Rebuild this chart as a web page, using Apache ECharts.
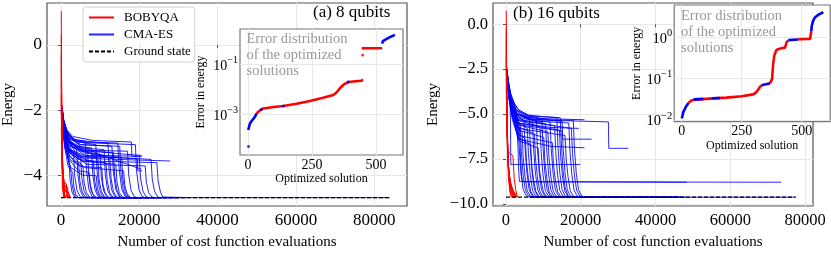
<!DOCTYPE html>
<html><head><meta charset="utf-8">
<script src="https://cdn.jsdelivr.net/npm/echarts@6/dist/echarts.min.js"></script>
<style>html,body{margin:0;padding:0;background:#fff}#c{width:831px;height:255px}</style>
</head><body><div id="c"></div>
<script>
// ---------------- DATA ----------------
const xTicksA = [0, 20000, 40000, 60000, 80000];
const yTicksA = [-4, -2, 0];
const xTicksB = [0, 20000, 40000, 60000, 80000];
const yTicksB = [-10, -7.5, -5, -2.5, 0];
const insetXTicks = [0, 250, 500];
const insetYTicksA = [0.001, 0.1];
const insetYTicksB = [0.01, 0.1, 1];

const groundA = [[0, -4.67], [83900, -4.67]];
const groundB = [[0, -9.63], [77500, -9.63]];

const cmaesA = [
 [[250,-1.90],[700,-2.35],[1600,-2.70],[3500,-2.90],[9000,-2.98],[14500,-3.00],[14900,-3.85],[15500,-4.40],[16300,-4.62],[17200,-4.67],[22000,-4.67]],
 [[300,-2.00],[900,-2.50],[2200,-2.85],[5000,-3.05],[13000,-3.10],[13400,-3.90],[14000,-4.42],[14800,-4.63],[15600,-4.67],[20000,-4.67]],
 [[300,-2.20],[800,-2.80],[1500,-3.30],[2000,-3.50],[2300,-4.10],[2800,-4.50],[3500,-4.65],[4300,-4.67],[15000,-4.67]],
 [[350,-2.30],[900,-2.90],[1800,-3.50],[2500,-3.80],[2800,-4.25],[3300,-4.55],[4000,-4.67],[12000,-4.67]],
 [[250,-2.10],[800,-2.60],[1800,-3.05],[3200,-3.30],[3500,-4.00],[4100,-4.45],[4900,-4.64],[5800,-4.67],[18000,-4.67]],
 [[280,-1.95],[700,-2.40],[1600,-2.85],[2800,-3.10],[4000,-3.20],[4300,-3.95],[4900,-4.45],[5700,-4.64],[6500,-4.67],[14000,-4.67]],
 [[320,-2.40],[900,-2.95],[2000,-3.35],[3500,-3.55],[4500,-3.60],[4800,-4.15],[5400,-4.50],[6200,-4.65],[7000,-4.67],[16000,-4.67]],
 [[260,-2.00],[800,-2.50],[2000,-2.95],[3800,-3.30],[5000,-3.40],[5300,-4.05],[5900,-4.48],[6700,-4.64],[7500,-4.67],[25000,-4.67]],
 [[300,-2.25],[900,-2.85],[2200,-3.40],[4200,-3.65],[5600,-3.70],[5900,-4.20],[6500,-4.52],[7300,-4.65],[8100,-4.67],[13000,-4.67]],
 [[250,-1.90],[650,-2.30],[1500,-2.65],[3000,-2.88],[6200,-2.95],[6500,-3.80],[7100,-4.40],[7900,-4.63],[8800,-4.67],[20000,-4.67]],
 [[270,-2.15],[800,-2.65],[2000,-3.00],[4000,-3.20],[6800,-3.25],[7100,-4.00],[7700,-4.46],[8500,-4.64],[9300,-4.67],[30000,-4.67]],
 [[330,-2.35],[900,-2.95],[2000,-3.50],[4500,-3.85],[7200,-3.90],[7500,-4.30],[8100,-4.55],[8900,-4.66],[9600,-4.67],[15000,-4.67]],
 [[260,-2.05],[750,-2.55],[1800,-2.90],[4000,-3.10],[7800,-3.15],[8100,-3.95],[8700,-4.44],[9500,-4.64],[10300,-4.67],[24000,-4.67]],
 [[310,-2.30],[900,-2.85],[2100,-3.25],[4500,-3.50],[8300,-3.55],[8600,-4.15],[9200,-4.50],[10000,-4.65],[10800,-4.67],[18000,-4.67]],
 [[250,-1.85],[600,-2.25],[1400,-2.60],[3200,-2.90],[6000,-3.00],[8900,-3.05],[9200,-3.85],[9800,-4.42],[10600,-4.63],[11500,-4.67],[28000,-4.67]],
 [[290,-2.20],[850,-2.75],[2000,-3.15],[4500,-3.40],[9400,-3.45],[9700,-4.10],[10300,-4.48],[11100,-4.65],[11900,-4.67],[16000,-4.67]],
 [[260,-2.00],[800,-2.50],[2000,-2.95],[5000,-3.25],[10000,-3.35],[10300,-4.05],[10900,-4.47],[11700,-4.64],[12500,-4.67],[83900,-4.67]],
 [[340,-2.40],[950,-3.00],[2300,-3.50],[5000,-3.72],[10400,-3.75],[10700,-4.25],[11300,-4.54],[12100,-4.66],[12800,-4.67],[19000,-4.67]],
 [[270,-2.10],[800,-2.60],[2000,-2.95],[5000,-3.15],[11000,-3.20],[11300,-3.95],[11900,-4.44],[12700,-4.64],[13500,-4.67],[22000,-4.67]],
 [[300,-2.25],[900,-2.80],[2200,-3.30],[5500,-3.55],[11500,-3.60],[11800,-4.15],[12400,-4.50],[13200,-4.65],[14000,-4.67],[17000,-4.67]],
 [[250,-1.95],[700,-2.40],[1700,-2.75],[4000,-2.95],[12000,-3.00],[12300,-3.85],[12900,-4.42],[13700,-4.63],[14500,-4.67],[26000,-4.67]],
 [[310,-2.30],[900,-2.85],[2200,-3.25],[5000,-3.45],[12500,-3.50],[12800,-4.10],[13400,-4.48],[14200,-4.65],[15000,-4.67],[21000,-4.67]],
 [[270,-2.05],[800,-2.55],[2000,-2.95],[5500,-3.25],[13400,-3.30],[13700,-4.00],[14300,-4.45],[15100,-4.64],[15900,-4.67],[24000,-4.67]],
 [[290,-2.15],[850,-2.70],[2100,-3.20],[5500,-3.55],[14000,-3.65],[14300,-4.20],[14900,-4.52],[15700,-4.65],[16500,-4.67],[20000,-4.67]],
 [[260,-2.00],[750,-2.45],[1900,-2.85],[5000,-3.05],[15000,-3.10],[15300,-3.90],[15900,-4.43],[16700,-4.64],[17500,-4.67],[30000,-4.67]],
 [[320,-2.35],[900,-2.90],[2200,-3.25],[6000,-3.42],[15500,-3.45],[15800,-4.10],[16400,-4.48],[17200,-4.65],[18000,-4.67],[23000,-4.67]],
 [[280,-2.10],[850,-2.70],[2200,-3.30],[6000,-3.75],[16000,-3.85],[16300,-4.30],[16900,-4.55],[17700,-4.66],[18400,-4.67],[21000,-4.67]],
 [[290,-2.20],[850,-2.75],[2100,-3.10],[6000,-3.22],[17000,-3.25],[17300,-3.98],[17900,-4.45],[18700,-4.64],[19500,-4.67],[27000,-4.67]],
 [[250,-1.90],[650,-2.30],[1600,-2.70],[4500,-2.98],[19000,-3.05],[19300,-3.85],[19900,-4.42],[20700,-4.63],[21500,-4.67],[25000,-4.67]],
 [[310,-2.30],[900,-2.85],[2100,-3.20],[6000,-3.38],[20000,-3.40],[20300,-4.05],[20900,-4.46],[21700,-4.64],[22500,-4.67],[28000,-4.67]],
 [[270,-2.10],[850,-2.70],[2200,-3.30],[6500,-3.65],[21500,-3.70],[21800,-4.20],[22400,-4.52],[23200,-4.65],[24000,-4.67],[30000,-4.67]],
 [[260,-2.00],[800,-2.55],[2100,-3.05],[6500,-3.40],[23000,-3.50],[23300,-4.10],[23900,-4.48],[24700,-4.65],[25500,-4.67],[32000,-4.67]],
 [[300,-2.25],[900,-2.80],[2200,-3.25],[7000,-3.55],[24500,-3.60],[24800,-4.15],[25400,-4.50],[26000,-4.65],[26500,-4.67],[33000,-4.67]],
 [[340,-2.40],[900,-3.10],[1800,-3.70],[3000,-3.90],[3300,-4.35],[3800,-4.58],[4500,-4.67],[11000,-4.67]],
 [[350,-2.45],[1000,-3.15],[2500,-3.75],[5500,-3.98],[9000,-4.00],[9300,-4.40],[9900,-4.60],[10600,-4.67],[14000,-4.67]],
 [[250,-1.85],[700,-2.30],[1500,-2.60],[3000,-2.80],[8000,-2.92],[18000,-2.97],[18100,-3.41],[20600,-3.41]],
 [[300,-2.05],[900,-2.55],[2400,-2.95],[6000,-3.20],[14000,-3.32],[20600,-3.38]],
 [[300,-2.15],[1000,-2.65],[3000,-3.05],[8000,-3.35],[14000,-3.50],[27900,-3.55]],
 [[250,-1.95],[800,-2.45],[2000,-2.80],[5000,-3.10],[12000,-3.45],[17000,-3.65],[20500,-3.80]],
 [[280,-2.10],[850,-2.60],[2200,-3.00],[6000,-3.30],[16000,-3.45],[19500,-3.48],[19600,-3.85],[20700,-3.85]]
];

const bobyqaA = [
 [[60,1.03],[120,-0.50],[200,-2.00],[300,-3.30],[450,-4.20],[600,-4.60],[800,-4.67],[900,-4.67]],
 [[60,-0.20],[150,-1.80],[300,-3.00],[500,-4.00],[800,-4.50],[1200,-4.67]],
 [[60,-1.00],[200,-2.50],[400,-3.60],[650,-4.10],[1000,-4.30],[1500,-4.40],[1600,-4.67],[1800,-4.67]],
 [[60,-1.50],[180,-2.80],[350,-3.90],[600,-4.30],[1200,-4.50],[2000,-4.55],[2200,-4.67]],
 [[60,-0.70],[250,-3.20],[500,-4.20],[900,-4.60],[1300,-4.67]],
 [[60,-1.80],[300,-3.60],[700,-4.20],[1400,-4.25],[1500,-4.67],[1700,-4.67]],
 [[60,-1.20],[200,-3.30],[400,-4.35],[800,-4.67],[1000,-4.67]],
 [[60,-0.40],[180,-2.20],[350,-3.80],[550,-4.45],[1100,-4.67]],
 [[60,-2.00],[250,-3.40],[600,-4.00],[1000,-4.40],[2500,-4.67],[2600,-4.67]],
 [[60,-1.60],[400,-3.90],[900,-4.45],[1900,-4.50],[2000,-4.67]],
 [[60,0.30],[130,-1.00],[250,-2.60],[450,-3.90],[700,-4.50],[1000,-4.67]],
 [[60,-2.50],[300,-3.70],[800,-4.30],[1700,-4.35],[1800,-4.67]]
];

const cmaesB = [
 [[200,-2.40],[600,-3.10],[1200,-3.80],[2200,-4.40],[3500,-4.80],[6000,-5.05],[10000,-5.15],[14500,-5.20],[14700,-6.20],[15200,-8.00],[15800,-9.10],[16600,-9.55],[17500,-9.63],[30000,-9.63]],
 [[250,-2.60],[700,-3.40],[1500,-4.10],[3000,-4.70],[6000,-5.10],[12000,-5.35],[27400,-5.44],[27500,-6.91],[32700,-6.91]],
 [[250,-3.00],[700,-3.90],[1100,-4.50],[1200,-5.50],[1250,-6.80],[1300,-7.81],[19800,-7.81]],
 [[300,-3.20],[900,-4.20],[1800,-4.90],[2800,-5.40],[3200,-6.80],[3400,-8.20],[3600,-8.76],[48300,-8.80]],
 [[280,-3.00],[800,-4.00],[1600,-4.70],[2600,-5.20],[3600,-5.80],[3900,-7.50],[4200,-8.50],[4500,-8.78],[73600,-8.80]],
 [[200,-2.50],[600,-3.30],[1300,-4.20],[2200,-4.90],[3200,-5.30],[3500,-6.80],[4000,-8.30],[4600,-9.20],[5400,-9.55],[6200,-9.63],[46000,-9.63]],
 [[250,-2.70],[700,-3.50],[1400,-4.40],[2500,-5.20],[3800,-5.60],[4100,-7.10],[4600,-8.40],[5200,-9.25],[6000,-9.56],[6800,-9.63],[20000,-9.63]],
 [[250,-2.90],[700,-3.80],[1500,-4.70],[2800,-5.60],[4300,-6.00],[4600,-7.40],[5100,-8.50],[5700,-9.28],[6500,-9.57],[7300,-9.63],[25000,-9.63]],
 [[200,-2.60],[650,-3.40],[1400,-4.30],[2600,-5.00],[4800,-5.40],[5100,-6.90],[5600,-8.30],[6200,-9.22],[7000,-9.55],[7800,-9.63],[46500,-9.63]],
 [[300,-3.10],[800,-4.00],[1600,-5.00],[3000,-6.00],[5200,-6.40],[5500,-7.70],[6000,-8.60],[6600,-9.30],[7400,-9.58],[8200,-9.63],[22000,-9.63]],
 [[250,-2.80],[700,-3.60],[1500,-4.50],[3000,-5.40],[5700,-5.80],[6000,-7.20],[6500,-8.40],[7100,-9.25],[7900,-9.56],[8700,-9.63],[30000,-9.63]],
 [[200,-2.50],[600,-3.20],[1300,-4.10],[2600,-4.80],[4500,-5.10],[6200,-5.25],[6500,-6.80],[7000,-8.30],[7600,-9.20],[8400,-9.55],[9200,-9.63],[47000,-9.63]],
 [[300,-3.00],[800,-3.90],[1600,-5.00],[3200,-6.30],[6600,-6.70],[6900,-7.90],[7400,-8.70],[8000,-9.32],[8800,-9.58],[9600,-9.63],[24000,-9.63]],
 [[250,-2.70],[700,-3.50],[1500,-4.40],[3000,-5.20],[7100,-5.50],[7400,-7.00],[7900,-8.35],[8500,-9.24],[9300,-9.56],[10100,-9.63],[35000,-9.63]],
 [[250,-2.90],[750,-3.80],[1600,-4.80],[3200,-5.70],[7600,-6.10],[7900,-7.50],[8400,-8.50],[9000,-9.28],[9800,-9.57],[10600,-9.63],[28000,-9.63]],
 [[200,-2.60],[650,-3.40],[1400,-4.30],[2800,-4.95],[5500,-5.25],[8100,-5.35],[8400,-6.90],[8900,-8.30],[9500,-9.22],[10300,-9.55],[11100,-9.63],[46000,-9.63]],
 [[300,-3.20],[800,-4.20],[1700,-5.30],[3500,-6.50],[8600,-6.90],[8900,-8.00],[9400,-8.75],[10000,-9.33],[10800,-9.58],[11600,-9.63],[20000,-9.63]],
 [[250,-2.80],[700,-3.60],[1500,-4.50],[3200,-5.35],[9100,-5.70],[9400,-7.10],[9900,-8.40],[10500,-9.25],[11300,-9.56],[12100,-9.63],[26000,-9.63]],
 [[200,-2.45],[600,-3.15],[1300,-4.05],[2700,-4.75],[5500,-5.15],[9600,-5.30],[9900,-6.85],[10400,-8.30],[11000,-9.22],[11800,-9.55],[12600,-9.63],[77500,-9.63]],
 [[300,-3.00],[800,-3.90],[1600,-4.90],[3300,-5.90],[10100,-6.30],[10400,-7.60],[10900,-8.55],[11500,-9.30],[12300,-9.57],[13100,-9.63],[30000,-9.63]],
 [[250,-2.70],[700,-3.50],[1500,-4.40],[3000,-5.15],[10600,-5.55],[10900,-7.00],[11400,-8.35],[12000,-9.24],[12800,-9.56],[13600,-9.63],[24000,-9.63]],
 [[250,-2.90],[750,-3.80],[1600,-4.80],[3200,-5.60],[11200,-6.00],[11500,-7.40],[12000,-8.50],[12600,-9.28],[13400,-9.57],[14200,-9.63],[40000,-9.63]],
 [[200,-2.60],[650,-3.40],[1400,-4.30],[2800,-4.95],[6000,-5.30],[11800,-5.45],[12100,-6.95],[12600,-8.30],[13200,-9.22],[14000,-9.55],[14800,-9.63],[46000,-9.63]],
 [[300,-3.10],[800,-4.00],[1700,-5.10],[3500,-6.20],[12400,-6.60],[12700,-7.80],[13200,-8.65],[13800,-9.32],[14600,-9.58],[15400,-9.63],[28000,-9.63]],
 [[250,-2.80],[700,-3.60],[1500,-4.50],[3200,-5.30],[13000,-5.65],[13300,-7.10],[13800,-8.40],[14400,-9.25],[15200,-9.56],[16000,-9.63],[22000,-9.63]],
 [[200,-2.50],[600,-3.20],[1300,-4.10],[2800,-4.80],[6000,-5.10],[13600,-5.20],[13900,-6.80],[14400,-8.30],[15000,-9.20],[15800,-9.55],[16600,-9.63],[32000,-9.63]],
 [[250,-2.90],[750,-3.80],[1600,-4.70],[3200,-5.50],[14300,-5.90],[14600,-7.30],[15100,-8.45],[15700,-9.27],[16500,-9.57],[17300,-9.63],[26000,-9.63]],
 [[200,-2.70],[650,-3.45],[1400,-4.35],[2900,-5.00],[7000,-5.30],[15000,-5.40],[15300,-6.90],[15800,-8.30],[16400,-9.22],[17200,-9.55],[18000,-9.63],[48000,-9.63]],
 [[300,-3.00],[800,-3.90],[1600,-4.90],[3300,-5.80],[15800,-6.20],[16100,-7.50],[16600,-8.50],[17200,-9.28],[18000,-9.57],[18800,-9.63],[30000,-9.63]],
 [[250,-2.60],[700,-3.40],[1500,-4.35],[3000,-5.05],[8000,-5.40],[16800,-5.50],[17100,-7.00],[17600,-8.35],[18200,-9.24],[19000,-9.56],[19800,-9.63],[28000,-9.63]],
 [[250,-2.80],[700,-3.60],[1500,-4.50],[3200,-5.35],[17500,-5.80],[17800,-7.20],[18300,-8.40],[18900,-9.25],[19700,-9.56],[20500,-9.63],[35000,-9.63]],
 [[200,-2.70],[650,-3.45],[1400,-4.35],[2900,-5.00],[8000,-5.30],[18000,-5.35],[18300,-6.90],[18800,-8.30],[19400,-9.22],[20200,-9.55],[21000,-9.63],[30000,-9.63]],
 [[250,-2.70],[700,-3.50],[1500,-4.40],[3000,-5.00],[9000,-5.25],[21000,-5.32]],
 [[300,-2.90],[800,-3.80],[1700,-4.80],[3500,-5.60],[15000,-5.95],[15100,-6.40],[22900,-6.40]],
 [[300,-3.10],[800,-4.10],[1700,-5.20],[3500,-6.40],[12000,-6.80],[21000,-6.88]],
 [[250,-2.80],[700,-3.70],[1600,-4.70],[3300,-5.50],[12000,-5.75],[19500,-5.80]]
];

const bobyqaB = [
 [[60,0.75],[120,-1.50],[250,-4.50],[400,-6.80],[650,-8.50],[1000,-9.30],[1400,-9.63],[1600,-9.63]],
 [[60,-0.50],[150,-3.00],[300,-5.50],[500,-7.40],[900,-8.80],[1500,-9.40],[2000,-9.63],[2200,-9.63]],
 [[60,-1.50],[200,-4.20],[400,-6.50],[700,-8.00],[1200,-8.90],[2000,-9.30],[2600,-9.63],[2800,-9.63]],
 [[60,-2.50],[250,-5.00],[500,-7.00],[800,-8.30],[1500,-9.10],[2400,-9.45],[3000,-9.63]],
 [[60,-1.00],[180,-3.80],[350,-6.20],[600,-7.80],[1000,-8.70],[1800,-9.20],[2300,-9.63],[2500,-9.63]],
 [[60,-2.00],[300,-5.50],[500,-7.10],[1800,-7.30],[1900,-7.50],[2200,-8.60],[2600,-9.20],[3000,-9.63]],
 [[60,-3.00],[300,-6.00],[600,-7.90],[1000,-8.80],[1700,-9.35],[2300,-9.63]],
 [[60,-0.20],[130,-2.50],[280,-5.20],[450,-7.20],[750,-8.60],[1200,-9.35],[1700,-9.63]],
 [[60,-3.50],[350,-6.80],[700,-8.30],[1300,-9.00],[2200,-9.40],[2800,-9.55],[3100,-9.63]],
 [[60,-1.80],[220,-4.60],[450,-7.00],[800,-8.50],[1400,-9.20],[2000,-9.63]]
];

// inset (a): error in energy vs optimized solution index
const insetARed = [
 [[34,1.15e-3],[45,1.45e-3],[60,1.78e-3],[100,2.04e-3],[138,2.24e-3],[190,2.75e-3],[242,3.55e-3],[290,4.68e-3],[333,6.17e-3],[345,7.6e-3],[359,0.0115],[372,0.0155],[392,0.0204],[420,0.0219],[444,0.0229],[448,0.0263]],
 [[444,0.457],[524,0.457]]
];
const insetARedDots = [[448,0.245]];
const insetABlue = [
 [[1,2.45e-4],[4,3.3e-4],[8,4.5e-4],[14,5.6e-4],[21,6.8e-4],[28,8.6e-4],[34,1.15e-3]],
 [[48,1.55e-3],[56,1.70e-3]],
 [[134,2.2e-3],[142,2.26e-3]],
 [[387,0.0198],[396,0.0206]],
 [[524,0.70],[527,0.88],[532,0.98],[540,1.06],[547,1.14],[560,1.35],[574,1.56]]
];
const insetABlueDots = [[2,5.4e-5]];

// inset (b)
const insetBRed = [
 [[28,0.0257],[35,0.0285],[42,0.030],[62,0.0309],[100,0.0324],[187,0.0347],[250,0.0375],[298,0.0417],[312,0.0478],[326,0.063],[333,0.069]],
 [[368,0.0759],[375,0.078],[377,0.10],[379,0.16],[382,0.25],[386,0.36],[390,0.42],[396,0.50],[415,0.54],[430,0.56],[434,0.65],[437,0.76],[444,0.83]],
 [[486,0.89],[535,0.91],[537,1.1],[540,1.4]]
];
const insetBBlue = [
 [[0,0.011],[3,0.0125],[7,0.0158],[14,0.019],[21,0.0225],[28,0.0257]],
 [[50,0.0315],[90,0.0325]],
 [[125,0.0337],[160,0.0341]],
 [[333,0.069],[345,0.0724],[358,0.0745],[368,0.0759]],
 [[444,0.85],[486,0.88]],
 [[540,1.4],[542,1.9],[548,2.5],[555,3.0],[570,3.5],[590,4.0]]
];

// ---------------- CHART ----------------
const FONT = 'Liberation Serif, Times New Roman, serif';
const chart = echarts.init(document.getElementById('c'), null, {renderer: 'canvas'});
const minus = s => String(s).replace('-', '\u2212');
const series = [];
function addLines(list, idx, name, color, width, opacity, z) {
  list.forEach(d => series.push({
    type: 'line', name, xAxisIndex: idx, yAxisIndex: idx, data: d, symbol: 'none', showSymbol: false,
    silent: true, z, lineStyle: {color, width, opacity}, itemStyle: {color}
  }));
}
function addDots(list, idx, name, color, z) {
  series.push({type: 'scatter', name, xAxisIndex: idx, yAxisIndex: idx, data: list, symbolSize: 3,
    silent: true, z, itemStyle: {color}});
}
function addGround(d, idx) {
  series.push({type: 'line', name: 'Ground state', xAxisIndex: idx, yAxisIndex: idx, data: d, symbol: 'none',
    silent: true, z: 4, lineStyle: {color: '#000', width: 1.2, type: [4, 2]}, itemStyle: {color: '#000'}});
}
// panel a
addLines(cmaesA, 0, 'CMA-ES', '#0000ff', 1, 0.85, 2);
addLines(bobyqaA, 0, 'BOBYQA', '#ff0000', 1, 1, 3);
addGround(groundA, 0);
// panel b
addLines(cmaesB, 2, 'CMA-ES', '#0000ff', 1, 0.85, 2);
addLines(bobyqaB, 2, 'BOBYQA', '#ff0000', 1, 1, 3);
addGround(groundB, 2);
// insets
addLines(insetARed, 1, 'insetRed', '#ff0000', 2.6, 1, 12);
addLines(insetABlue, 1, 'insetBlue', '#0000ff', 2.6, 1, 13);
addDots(insetARedDots, 1, 'insetRed', '#ff0000', 12);
addDots(insetABlueDots, 1, 'insetBlue', '#0000ff', 13);
addLines(insetBRed, 3, 'insetRed', '#ff0000', 2.6, 1, 12);
addLines(insetBBlue, 3, 'insetBlue', '#0000ff', 2.6, 1, 13);

const gridLine = {show: true, lineStyle: {color: '#e6e6e6', width: 1}};
function mainX(idx, min, max, ticks, fs) {
  return {type: 'value', gridIndex: idx, min, max,
    axisLine: {show: false}, axisTick: {show: true, customValues: ticks, length: 3, lineStyle: {color: '#555'}},
    splitLine: gridLine,
    axisLabel: {customValues: ticks, fontFamily: FONT, fontSize: fs, color: '#000', margin: 6, formatter: v => String(v)},
    name: 'Number of cost function evaluations', nameLocation: 'middle', nameGap: 29,
    nameTextStyle: {fontFamily: FONT, fontSize: 15, color: '#000'}};
}
function mainY(idx, min, max, ticks, fs, fmt, gap) {
  return {type: 'value', gridIndex: idx, min, max,
    axisLine: {show: false}, axisTick: {show: true, customValues: ticks, length: 3, lineStyle: {color: '#555'}},
    splitLine: gridLine,
    axisLabel: {customValues: ticks, fontFamily: FONT, fontSize: fs, color: '#000', margin: 5, formatter: fmt},
    name: 'Energy', nameLocation: 'middle', nameGap: gap, nameRotate: 90,
    nameTextStyle: {fontFamily: FONT, fontSize: 15, color: '#000'}};
}
function insetX(idx, min, max, gap) {
  return {type: 'value', gridIndex: idx, min, max, z: 11,
    axisLine: {show: false}, axisTick: {show: false, customValues: insetXTicks},
    splitLine: {show: true, lineStyle: {color: '#e8e8e8'}},
    axisLabel: {customValues: insetXTicks, fontFamily: FONT, fontSize: 14, color: '#000', margin: 3},
    name: 'Optimized solution', nameLocation: 'middle', nameGap: gap,
    nameTextStyle: {fontFamily: FONT, fontSize: 12, color: '#000'}};
}
function supFmt(v) {
  const e = Math.round(Math.log10(v));
  return '{b|10}{s|' + minus(e) + '}';
}
function insetY(idx, min, max, ticks, gap, fs) {
  return {type: 'log', logBase: 10, gridIndex: idx, min, max, z: 11,
    axisLine: {show: false}, axisTick: {show: false, customValues: ticks},
    splitLine: {show: true, lineStyle: {color: '#e8e8e8'}},
    axisLabel: {customValues: ticks, margin: 2, formatter: supFmt,
      rich: {b: {fontFamily: FONT, fontSize: fs, color: '#000', lineHeight: 18, verticalAlign: 'bottom'},
             s: {fontFamily: FONT, fontSize: fs * 0.72, color: '#000', lineHeight: 11, verticalAlign: 'top'}}},
    name: 'Error in energy', nameLocation: 'middle', nameGap: gap, nameRotate: 90,
    nameTextStyle: {fontFamily: FONT, fontSize: 12, color: '#000'}};
}

const option = {
  animation: false,
  backgroundColor: '#fff',
  grid: [
    {left: 47, top: 3, width: 360, height: 210, show: true, borderColor: '#555', borderWidth: 1.2, backgroundColor: '#fff', z: 0},
    {left: 240, top: 29, width: 163, height: 126, show: true, borderColor: '#777', borderWidth: 1.2, backgroundColor: '#fff', z: 10},
    {left: 493, top: 3, width: 320, height: 210, show: true, borderColor: '#555', borderWidth: 1.2, backgroundColor: '#fff', z: 0},
    {left: 674.2, top: 5, width: 156, height: 116.7, show: true, borderColor: '#777', borderWidth: 1.2, backgroundColor: '#fff', z: 10}
  ],
  xAxis: [
    mainX(0, -3576, 88378, xTicksA, 17),
    insetX(1, -31.25, 605.5, 18),
    mainX(2, -3478, 82140, xTicksB, 16.5),
    insetX(3, -31.25, 618.75, 18)
  ],
  yAxis: [
    mainY(0, -4.925, 1.279, yTicksA, 17.5, v => minus(v), 31),
    insetY(1, Math.pow(10, -4.61), Math.pow(10, 0.428), insetYTicksA, 33, 14),
    mainY(2, -10.124, 1.185, yTicksB, 16.5, v => minus(Number(v).toFixed(1)), 52),
    insetY(3, Math.pow(10, -2.04), Math.pow(10, 0.777), insetYTicksB, 26, 14.5)
  ],
  legend: {
    data: ['BOBYQA', 'CMA-ES', 'Ground state'], orient: 'vertical', left: 83, top: 7,
    padding: [4, 4, 4, 5], itemGap: 4, itemWidth: 25, itemHeight: 13,
    itemStyle: {opacity: 0, borderWidth: 0},
    backgroundColor: 'rgba(255,255,255,0.85)', borderColor: '#d0d0d0', borderWidth: 1, borderRadius: 3,
    textStyle: {fontFamily: FONT, fontSize: 13, color: '#000', padding: [0, 0, 0, 5], lineHeight: 13},
    selectedMode: false
  },
  graphic: [
    {type: 'text', z: 30, style: {text: '(a) 8 qubits', x: 313, y: 13, verticalAlign: 'middle', fontFamily: FONT, fontSize: 17, fill: '#000'}},
    {type: 'text', z: 30, style: {text: '(b) 16 qubits', x: 513, y: 14, verticalAlign: 'middle', fontFamily: FONT, fontSize: 17, fill: '#000'}},
    {type: 'text', z: 30, style: {text: 'Error distribution\nof the optimized\nsolutions', x: 246.5, y: 31, verticalAlign: 'top', lineHeight: 16, fontFamily: FONT, fontSize: 14.5, fill: '#999'}},
    {type: 'text', z: 30, style: {text: 'Error distribution\nof the optimized\nsolutions', x: 681, y: 8, verticalAlign: 'top', lineHeight: 16, fontFamily: FONT, fontSize: 14.5, fill: '#999'}}
  ],
  series
};
chart.setOption(option);
</script>
</body></html>
